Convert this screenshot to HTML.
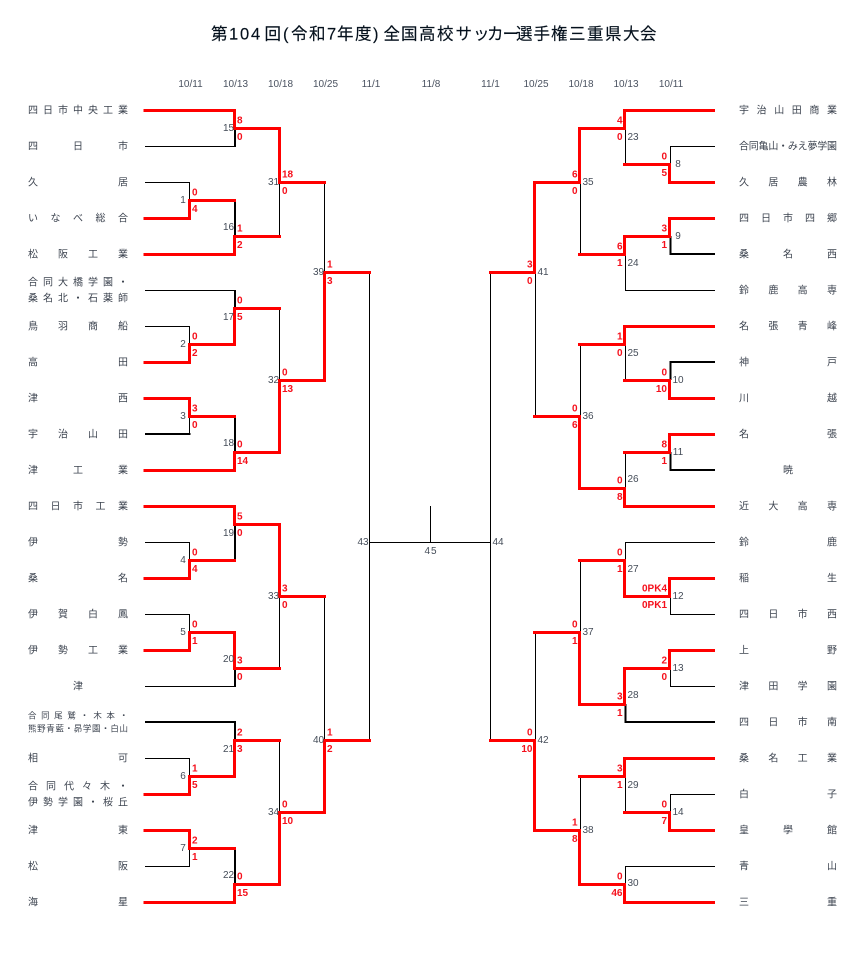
<!DOCTYPE html>
<html lang="ja"><head><meta charset="utf-8"><title>第104回全国高校サッカー選手権三重県大会</title>
<style>
html,body{margin:0;padding:0;background:#fff}
svg{display:block}
text{font-family:"Liberation Sans","Noto Sans CJK JP",sans-serif}
.t{font-size:10px;fill:#3d4450}
.s{font-size:8.5px;fill:#3d4450}
.d{font-size:10px;fill:#4a5260;text-anchor:middle}
.n{font-size:10px;fill:#444c58;text-anchor:middle}
.r{font-size:10px;font-weight:bold;fill:#f5101c}
.e{text-anchor:end}
</style></head><body>
<svg width="855" height="970" viewBox="0 0 855 970" xmlns="http://www.w3.org/2000/svg">
<text x="211 229 240 251 264.5 283 291 309 327 337 355 373 383.5 401 419 437 455.5 473 487 502.5 516 533.5 551 569 587 605 623 640" y="39.5" style="font-size:16.5px;fill:#04101c;stroke:#04101c;stroke-width:.15">第104回(令和7年度)全国高校サッカー選手権三重県大会</text>

<g class="dates">
<text class="d" x="190.5" y="87">10/11</text><text class="d" x="235.5" y="87">10/13</text><text class="d" x="280.5" y="87">10/18</text><text class="d" x="325.5" y="87">10/25</text><text class="d" x="371" y="87">11/1</text><text class="d" x="431" y="87">11/8</text><text class="d" x="490.5" y="87">11/1</text><text class="d" x="536" y="87">10/25</text><text class="d" x="581" y="87">10/18</text><text class="d" x="626" y="87">10/13</text><text class="d" x="671" y="87">10/11</text>
</g>

<!-- thin black -->
<path fill="none" stroke="#000" stroke-width="1" d="M145 146.5H235M145 182.5H189.5V200M145 290.5H235M145 326.5H189.5V344M145 542.5H189.5V560M145 614.5H189.5V632M145 686.5H235M145 758.5H189.5V776M145 866.5H189.5V848
M279.5 182V236M279.5 308V380M279.5 596V668M279.5 740V812
M324.5 182V272M324.5 596V740
M369.5 272V740M369.5 542.5H490.5M430.5 506V542M490.5 272V740
M715 146.5H670.5V164M715 290.5H625.5V254M715 542.5H625.5V560M715 614.5H670.5V596M715 686.5H670.5V668M715 794.5H670.5V812M715 866.5H625.5V884
M625.5 128V164M625.5 344V380M625.5 452V488M625.5 776V812
M580.5 182V254M580.5 344V416M580.5 560V632M580.5 776V830
M535.5 272V416M535.5 632V740"/>
<!-- thick black -->
<path fill="none" stroke="#000" stroke-width="2" d="M235 128V147M235 200V236M235 290V308M235 416V452M235 524V560M235 668V687M235 722V740M235 848V884
M145 434H190.5M145 722H236
M715 254H670.5V236M715 362H670.5V380M715 470H670.5V452M715 722H625.5V704"/>
<path fill="none" stroke="#000" stroke-width="1" d="M189.5 416V434"/>
<!-- red -->
<path fill="none" stroke="#f00" stroke-width="3" stroke-linecap="square" stroke-linejoin="miter" d="M145 110.5H234.5V128.5H279.5V182.5H324.5
M145 470.5H234.5V452.5H279.5V380.5H324.5V272.5H369.5
M145 218.5H189.5V200.5H234.5
M145 254.5H234.5V236.5H279.5
M145 362.5H189.5V344.5H234.5V308.5H279.5
M145 398.5H189.5V416.5H234.5
M145 506.5H234.5V524.5H279.5V596.5H324.5
M145 578.5H189.5V560.5H234.5
M145 650.5H189.5V632.5H234.5V668.5H279.5
M145 794.5H189.5V776.5H234.5V740.5H279.5
M145 830.5H189.5V848.5H234.5
M145 902.5H234.5V884.5H279.5V812.5H324.5V740.5H369.5
M713.5 110.5H624.5V128.5H579.5V182.5H534.5V272.5H490.5
M713.5 182.5H669.5V164.5H624.5
M713.5 218.5H669.5V236.5H624.5V254.5H579.5
M713.5 326.5H624.5V344.5H579.5
M713.5 398.5H669.5V380.5H624.5
M713.5 434.5H669.5V452.5H624.5
M713.5 506.5H624.5V488.5H579.5V416.5H534.5
M713.5 578.5H669.5V596.5H624.5V560.5H579.5
M713.5 650.5H669.5V668.5H624.5V704.5H579.5V632.5H534.5
M713.5 758.5H624.5V776.5H579.5
M713.5 830.5H669.5V812.5H624.5
M713.5 902.5H624.5V884.5H579.5V830.5H534.5V740.5H490.5"/>

<!-- left teams -->
<g class="left">
<text class="t" x="28" y="113.5" textLength="100">四日市中央工業</text>
<text class="t" x="28" y="149.5" textLength="100">四日市</text>
<text class="t" x="28" y="185.5" textLength="100">久居</text>
<text class="t" x="28" y="221.5" textLength="100">いなべ総合</text>
<text class="t" x="28" y="257.5" textLength="100">松阪工業</text>
<text class="t" x="28" y="285.5" textLength="100">合同大橋学園・</text>
<text class="t" x="28" y="301.5" textLength="100">桑名北・石薬師</text>
<text class="t" x="28" y="329.5" textLength="100">鳥羽商船</text>
<text class="t" x="28" y="365.5" textLength="100">高田</text>
<text class="t" x="28" y="401.5" textLength="100">津西</text>
<text class="t" x="28" y="437.5" textLength="100">宇治山田</text>
<text class="t" x="28" y="473.5" textLength="100">津工業</text>
<text class="t" x="28" y="509.5" textLength="100">四日市工業</text>
<text class="t" x="28" y="545.5" textLength="100">伊勢</text>
<text class="t" x="28" y="581.5" textLength="100">桑名</text>
<text class="t" x="28" y="617.5" textLength="100">伊賀白鳳</text>
<text class="t" x="28" y="653.5" textLength="100">伊勢工業</text>
<text class="t" x="78" y="689.5" text-anchor="middle">津</text>
<text class="s" x="28" y="718.5" textLength="100">合同尾鷲・木本・</text>
<text class="s" x="28" y="731.5" textLength="100">熊野青藍・昴学園・白山</text>
<text class="t" x="28" y="761.5" textLength="100">相可</text>
<text class="t" x="28" y="789.5" textLength="100">合同代々木・</text>
<text class="t" x="28" y="805.5" textLength="100">伊勢学園・桜丘</text>
<text class="t" x="28" y="833.5" textLength="100">津東</text>
<text class="t" x="28" y="869.5" textLength="100">松阪</text>
<text class="t" x="28" y="905.5" textLength="100">海星</text>
</g>
<!-- right teams -->
<g class="right">
<text class="t" x="739" y="113.5" textLength="98">宇治山田商業</text>
<text class="t" x="739" y="149.5" textLength="98">合同亀山・みえ夢学園</text>
<text class="t" x="739" y="185.5" textLength="98">久居農林</text>
<text class="t" x="739" y="221.5" textLength="98">四日市四郷</text>
<text class="t" x="739" y="257.5" textLength="98">桑名西</text>
<text class="t" x="739" y="293.5" textLength="98">鈴鹿高専</text>
<text class="t" x="739" y="329.5" textLength="98">名張青峰</text>
<text class="t" x="739" y="365.5" textLength="98">神戸</text>
<text class="t" x="739" y="401.5" textLength="98">川越</text>
<text class="t" x="739" y="437.5" textLength="98">名張</text>
<text class="t" x="788" y="473.5" text-anchor="middle">暁</text>
<text class="t" x="739" y="509.5" textLength="98">近大高専</text>
<text class="t" x="739" y="545.5" textLength="98">鈴鹿</text>
<text class="t" x="739" y="581.5" textLength="98">稲生</text>
<text class="t" x="739" y="617.5" textLength="98">四日市西</text>
<text class="t" x="739" y="653.5" textLength="98">上野</text>
<text class="t" x="739" y="689.5" textLength="98">津田学園</text>
<text class="t" x="739" y="725.5" textLength="98">四日市南</text>
<text class="t" x="739" y="761.5" textLength="98">桑名工業</text>
<text class="t" x="739" y="797.5" textLength="98">白子</text>
<text class="t" x="739" y="833.5" textLength="98">皇學館</text>
<text class="t" x="739" y="869.5" textLength="98">青山</text>
<text class="t" x="739" y="905.5" textLength="98">三重</text>
</g>

<!-- match numbers -->
<g>
<text class="n" x="183" y="203">1</text><text class="n" x="183" y="347">2</text><text class="n" x="183" y="419">3</text><text class="n" x="183" y="563">4</text><text class="n" x="183" y="635">5</text><text class="n" x="183" y="779">6</text><text class="n" x="183" y="851">7</text>
<text class="n" x="228.5" y="131">15</text><text class="n" x="228.5" y="230">16</text><text class="n" x="228.5" y="320">17</text><text class="n" x="228.5" y="446">18</text><text class="n" x="228.5" y="536">19</text><text class="n" x="228.5" y="662">20</text><text class="n" x="228.5" y="752">21</text><text class="n" x="228.5" y="878">22</text>
<text class="n" x="273.5" y="185">31</text><text class="n" x="273.5" y="383">32</text><text class="n" x="273.5" y="599">33</text><text class="n" x="273.5" y="815">34</text>
<text class="n" x="318.5" y="275">39</text><text class="n" x="318.5" y="743">40</text>
<text class="n" x="363" y="545">43</text><text class="n" x="431" y="554" style="letter-spacing:1px">45</text><text class="n" x="498" y="545">44</text>
<text class="n" x="543" y="275">41</text><text class="n" x="543" y="743">42</text>
<text class="n" x="588" y="185">35</text><text class="n" x="588" y="419">36</text><text class="n" x="588" y="635">37</text><text class="n" x="588" y="833">38</text>
<text class="n" x="633" y="140">23</text><text class="n" x="633" y="266">24</text><text class="n" x="633" y="356">25</text><text class="n" x="633" y="482">26</text><text class="n" x="633" y="572">27</text><text class="n" x="633" y="698">28</text><text class="n" x="633" y="788">29</text><text class="n" x="633" y="886">30</text>
<text class="n" x="678" y="167">8</text><text class="n" x="678" y="239">9</text><text class="n" x="678" y="383">10</text><text class="n" x="678" y="455">11</text><text class="n" x="678" y="599">12</text><text class="n" x="678" y="671">13</text><text class="n" x="678" y="815">14</text>
</g>

<!-- scores left -->
<g>
<text class="r" x="192" y="195.5">0</text><text class="r" x="192" y="212">4</text>
<text class="r" x="192" y="339.5">0</text><text class="r" x="192" y="356">2</text>
<text class="r" x="192" y="411.5">3</text><text class="r" x="192" y="428">0</text>
<text class="r" x="192" y="555.5">0</text><text class="r" x="192" y="572">4</text>
<text class="r" x="192" y="627.5">0</text><text class="r" x="192" y="644">1</text>
<text class="r" x="192" y="771.5">1</text><text class="r" x="192" y="788">5</text>
<text class="r" x="192" y="843.5">2</text><text class="r" x="192" y="860">1</text>
<text class="r" x="237" y="123.5">8</text><text class="r" x="237" y="140">0</text>
<text class="r" x="237" y="231.5">1</text><text class="r" x="237" y="248">2</text>
<text class="r" x="237" y="303.5">0</text><text class="r" x="237" y="320">5</text>
<text class="r" x="237" y="447.5">0</text><text class="r" x="237" y="464">14</text>
<text class="r" x="237" y="519.5">5</text><text class="r" x="237" y="536">0</text>
<text class="r" x="237" y="663.5">3</text><text class="r" x="237" y="680">0</text>
<text class="r" x="237" y="735.5">2</text><text class="r" x="237" y="752">3</text>
<text class="r" x="237" y="879.5">0</text><text class="r" x="237" y="896">15</text>
<text class="r" x="282" y="177.5">18</text><text class="r" x="282" y="194">0</text>
<text class="r" x="282" y="375.5">0</text><text class="r" x="282" y="392">13</text>
<text class="r" x="282" y="591.5">3</text><text class="r" x="282" y="608">0</text>
<text class="r" x="282" y="807.5">0</text><text class="r" x="282" y="824">10</text>
<text class="r" x="327" y="267.5">1</text><text class="r" x="327" y="284">3</text>
<text class="r" x="327" y="735.5">1</text><text class="r" x="327" y="752">2</text>
</g>
<!-- scores right -->
<g>
<text class="r e" x="667" y="159.5">0</text><text class="r e" x="667" y="176">5</text>
<text class="r e" x="667" y="231.5">3</text><text class="r e" x="667" y="248">1</text>
<text class="r e" x="667" y="375.5">0</text><text class="r e" x="667" y="392">10</text>
<text class="r e" x="667" y="447.5">8</text><text class="r e" x="667" y="464">1</text>
<text class="r e" x="667" y="591.5">0PK4</text><text class="r e" x="667" y="608">0PK1</text>
<text class="r e" x="667" y="663.5">2</text><text class="r e" x="667" y="680">0</text>
<text class="r e" x="667" y="807.5">0</text><text class="r e" x="667" y="824">7</text>
<text class="r e" x="622.5" y="123.5">4</text><text class="r e" x="622.5" y="140">0</text>
<text class="r e" x="622.5" y="249.5">6</text><text class="r e" x="622.5" y="266">1</text>
<text class="r e" x="622.5" y="339.5">1</text><text class="r e" x="622.5" y="356">0</text>
<text class="r e" x="622.5" y="483.5">0</text><text class="r e" x="622.5" y="500">8</text>
<text class="r e" x="622.5" y="555.5">0</text><text class="r e" x="622.5" y="572">1</text>
<text class="r e" x="622.5" y="699.5">3</text><text class="r e" x="622.5" y="716">1</text>
<text class="r e" x="622.5" y="771.5">3</text><text class="r e" x="622.5" y="788">1</text>
<text class="r e" x="622.5" y="879.5">0</text><text class="r e" x="622.5" y="896">46</text>
<text class="r e" x="577.5" y="177.5">6</text><text class="r e" x="577.5" y="194">0</text>
<text class="r e" x="577.5" y="411.5">0</text><text class="r e" x="577.5" y="428">6</text>
<text class="r e" x="577.5" y="627.5">0</text><text class="r e" x="577.5" y="644">1</text>
<text class="r e" x="577.5" y="825.5">1</text><text class="r e" x="577.5" y="842">8</text>
<text class="r e" x="532.5" y="267.5">3</text><text class="r e" x="532.5" y="284">0</text>
<text class="r e" x="532.5" y="735.5">0</text><text class="r e" x="532.5" y="752">10</text>
</g>
</svg>
</body></html>
